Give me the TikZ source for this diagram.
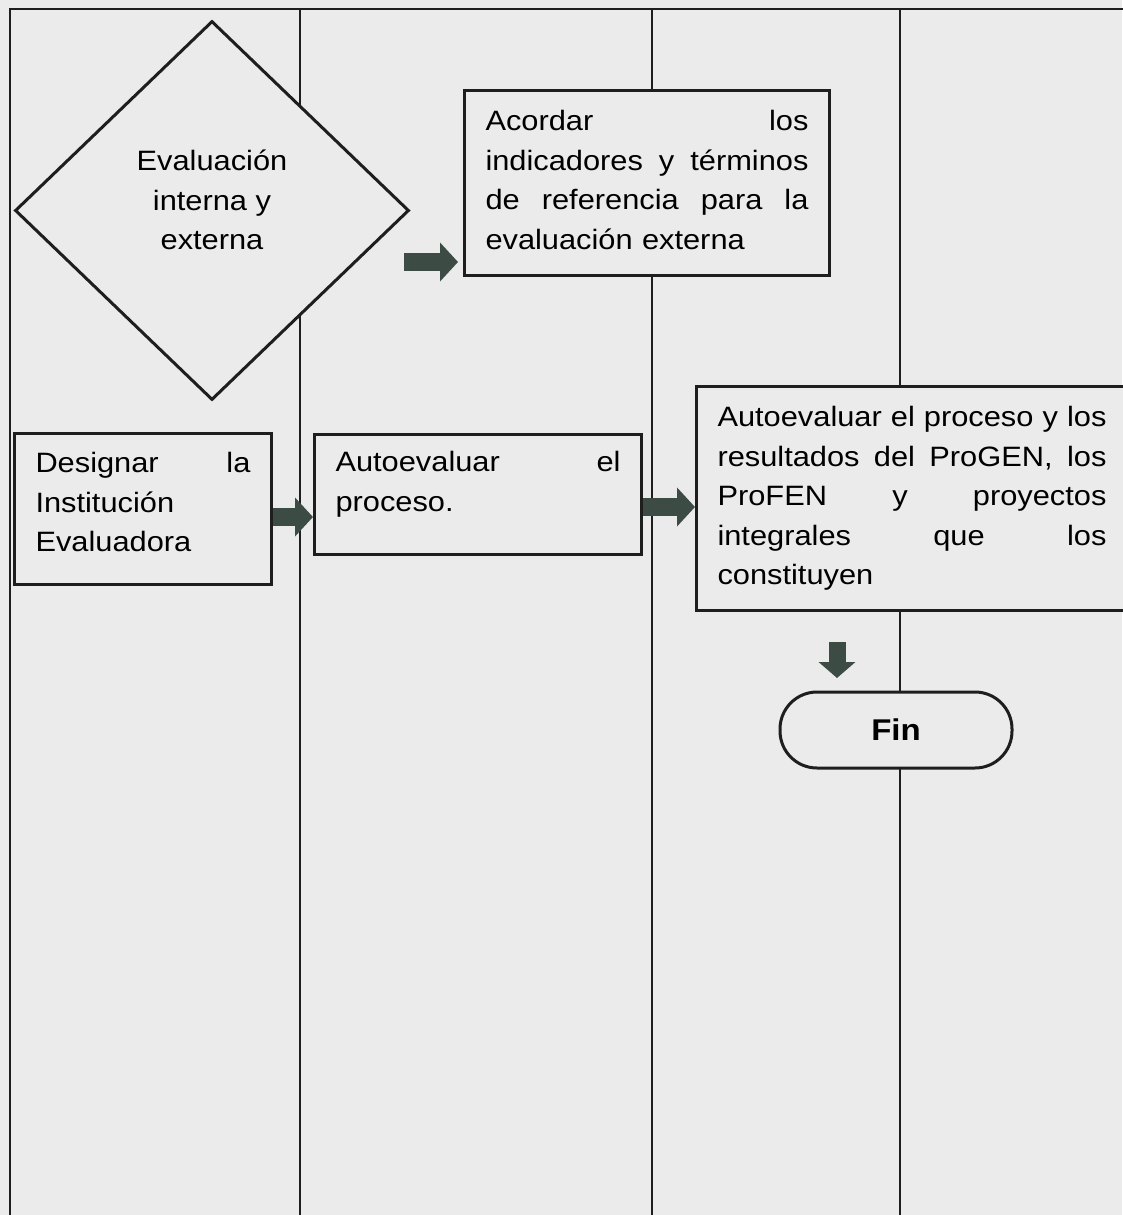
\documentclass[tikz,border=0pt]{standalone}
\usepackage{fontspec}
\setmainfont{Liberation Sans}[FakeStretch=1.1]
\usetikzlibrary{arrows.meta,shapes.geometric}
\definecolor{bg}{HTML}{EBEBEB}
\definecolor{ink}{HTML}{1E1E1E}
\definecolor{arr}{HTML}{3D4B45}
\tikzset{
  lane/.style={draw=ink, line width=2pt},
  procbox/.style={draw=ink, line width=3pt, fill=bg, rectangle, anchor=north west,
    inner xsep=21pt, inner ysep=0pt, align=left, font=\fontsize{28}{39.5}\selectfont},
  decbox/.style={draw=ink, line width=3pt, fill=bg, diamond, minimum width=394pt,
    minimum height=379pt, inner sep=0pt},
  dectext/.style={align=center, inner sep=0pt, font=\fontsize{28}{39.5}\selectfont},
  termbox/.style={draw=ink, line width=3pt, fill=bg, rectangle, rounded corners=37pt,
    minimum width=232pt, minimum height=76pt, inner sep=0pt,
    font=\fontsize{30}{34}\selectfont\bfseries},
  blockarrow/.style={color=arr, line width=18pt, -{Triangle[width=38pt,length=18pt]}},
}
\begin{document}
\begin{tikzpicture}[x=1pt,y=-1pt]
\useasboundingbox (0,0) rectangle (1122,1215);
\fill[bg] (0,0) rectangle (1122,1215);
% lanes
\draw[lane] (10,1220) -- (10,9) -- (1130,9);
\draw[lane] (300,9) -- (300,1220);
\draw[lane] (652,9) -- (652,1220);
\draw[lane] (900,9) -- (900,1220);
% decision
\node[decbox] (dec) at (212,210.5) {};
\node[dectext] (dect) at (212,200) {Evaluación\\interna y\\externa};
% boxes
\node[procbox, text width=323pt, minimum height=185pt] (acordar) at (463,89)
  {Acordar\hfill los\\indicadores\hfill y\hfill términos\\de\hfill referencia\hfill para\hfill la\\evaluación externa\\[-33pt]\mbox{}};
\node[procbox, text width=215pt, minimum height=151pt] (desig) at (13,432)
  {Designar\hfill la\\Institución\\Evaluadora\\[-25.5pt]\mbox{}};
\node[procbox, text width=285pt, minimum height=120pt] (auto1) at (313,433)
  {Autoevaluar\hfill el\\proceso.\\[-13pt]\mbox{}};
\node[procbox, text width=389pt, minimum height=224pt] (auto2) at (695,385)
  {Autoevaluar\hfill el\hfill proceso\hfill y\hfill los\\resultados\hfill del\hfill ProGEN,\hfill los\\ProFEN\hfill y\hfill proyectos\\integrales\hfill que\hfill los\\constituyen};
\node[termbox] (fin) at (896,730) {Fin};
% arrows
\coordinate (a1) at (404,262);
\coordinate (a2) at (0,517);
\coordinate (a3) at (0,507);
\coordinate (a4s) at (837,642);
\coordinate (a4e) at (837,678);
\draw[blockarrow, shorten >=5pt] (a1) -- (a1 -| acordar.west);
\draw[blockarrow] (a2 -| desig.east) -- (a2 -| auto1.west);
\draw[blockarrow] (a3 -| auto1.east) -- (a3 -| auto2.west);
\draw[blockarrow, line width=17pt, -{Triangle[width=36pt,length=16pt]}] (a4s) -- (a4e);
\end{tikzpicture}
\end{document}
